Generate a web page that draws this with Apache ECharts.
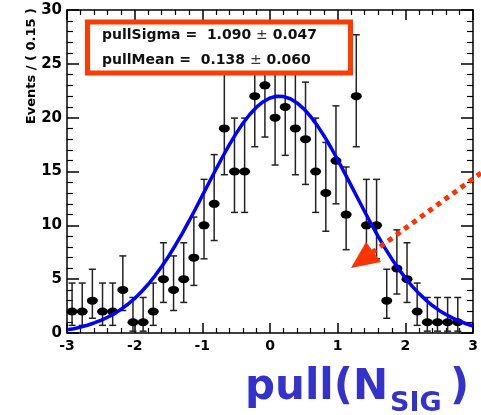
<!DOCTYPE html>
<html>
<head>
<meta charset="utf-8">
<script src="https://cdn.jsdelivr.net/npm/echarts@6/dist/echarts.min.js"></script>
<style>
  html, body { margin: 0; padding: 0; background: #fff; }
  #chart { width: 481px; height: 415px; }
</style>
</head>
<body>
<div id="chart"></div>
<script>
// bin centres of the pull histogram (bin width 0.15)
let binCenters = [-2.925, -2.775, -2.625, -2.475, -2.325, -2.175, -2.025, -1.875, -1.725, -1.575,
                  -1.425, -1.275, -1.125, -0.975, -0.825, -0.675, -0.525, -0.375, -0.225, -0.075,
                   0.075,  0.225,  0.375,  0.525,  0.675,  0.825,  0.975,  1.125,  1.275,  1.425,
                   1.575,  1.725,  1.875,  2.025,  2.175,  2.325,  2.475,  2.625,  2.775,  2.925];
let counts  = [2, 2, 3, 2, 2, 4, 1, 1, 2, 5, 4, 5, 7, 10, 12, 19, 15, 15, 22, 23,
               20, 21, 19, 18, 15, 13, 16, 11, 22, 10, 10, 3, 6, 5, 2, 1, 1, 1, 1, null];
// ends of the error bars
let errLow  = [0.71, 0.71, 1.37, 0.71, 0.71, 2.09, 0.17, 0.17, 0.71, 2.84, 2.09, 2.84, 4.42, 6.89, 8.59,
               14.7, 11.2, 11.2, 17.3, 18.2, 15.6, 16.5, 14.7, 13.8, 11.2, 9.45, 12.0, 7.74, 17.3, 6.89,
               6.89, 1.37, 3.62, 2.84, 0.71, 0.17, 0.17, 0.17, 0.17, null];
let errHigh = [4.64, 4.64, 5.92, 4.64, 4.64, 7.16, 3.30, 3.30, 4.64, 8.38, 7.16, 8.38, 10.77, 14.27, 16.57,
               24.4, 19.96, 19.96, 27.7, 28.8, 25.5, 26.6, 24.4, 23.3, 19.96, 17.7, 21.1, 15.42, 27.7, 14.27,
               14.27, 5.92, 9.58, 8.38, 4.64, 3.30, 3.30, 3.30, 3.30, null];

// fitted gaussian curve, every 0.1
let fitX = [-3.0, -2.9, -2.8, -2.7, -2.6, -2.5, -2.4, -2.3, -2.2, -2.1,
            -2.0, -1.9, -1.8, -1.7, -1.6, -1.5, -1.4, -1.3, -1.2, -1.1,
            -1.0, -0.9, -0.8, -0.7, -0.6, -0.5, -0.4, -0.3, -0.2, -0.1,
             0.0,  0.1,  0.2,  0.3,  0.4,  0.5,  0.6,  0.7,  0.8,  0.9,
             1.0,  1.1,  1.2,  1.3,  1.4,  1.5,  1.6,  1.7,  1.8,  1.9,
             2.0,  2.1,  2.2,  2.3,  2.4,  2.5,  2.6,  2.7,  2.8,  2.9, 3.0];
let fitY = [0.3, 0.4, 0.55, 0.72, 0.93, 1.17, 1.46, 1.8, 2.21, 2.67,
            3.21, 3.83, 4.53, 5.31, 6.17, 7.11, 8.13, 9.21, 10.36, 11.54,
            12.76, 13.98, 15.19, 16.37, 17.49, 18.54, 19.48, 20.29, 20.97, 21.48,
            21.83, 21.99, 21.96, 21.76, 21.37, 20.82, 20.11, 19.26, 18.3, 17.23,
            16.09, 14.9, 13.69, 12.47, 11.26, 10.08, 8.95, 7.88, 6.88, 5.96,
            5.12, 4.35, 3.68, 3.08, 2.55, 2.1, 1.72, 1.39, 1.1, 0.86, 0.65];

let xTicks = [-3, 3, 1];   // min, max, step
let yTicks = [0, 30, 5];

let fitSigma = ['1.090', '0.047'];
let fitMean  = ['0.138', '0.060'];

const FONT = 'DejaVu Sans';

let points = [];
let bars = [];
binCenters.forEach((x, i) => {
    if (counts[i] == null) return;
    points.push([x, counts[i]]);
    bars.push([x, errLow[i], errHigh[i]]);
});

// ROOT style frame: ticks on all four sides, pointing inwards
function axisX(pos, labels) {
    return {
        type: 'value', position: pos, min: xTicks[0], max: xTicks[1], interval: xTicks[2],
        axisLine: { show: true, onZero: false, lineStyle: { color: '#000', width: 1.5 } },
        axisTick: { show: true, inside: true, length: 10, lineStyle: { color: '#000', width: 1.5 } },
        minorTick: { show: true, splitNumber: 5, length: 5, lineStyle: { color: '#000', width: 1.2 } },
        axisLabel: { show: labels, color: '#000', fontFamily: FONT, fontWeight: 'bold', fontSize: 14, margin: 6 },
        splitLine: { show: false }
    };
}
function axisY(pos, labels) {
    return {
        type: 'value', position: pos, min: yTicks[0], max: yTicks[1], interval: yTicks[2],
        axisLine: { show: true, onZero: false, lineStyle: { color: '#000', width: 1.5 } },
        axisTick: { show: true, inside: true, length: 12, lineStyle: { color: '#000', width: 1.5 } },
        minorTick: { show: true, splitNumber: 5, length: 6, lineStyle: { color: '#000', width: 1.2 } },
        axisLabel: { show: labels, color: '#000', fontFamily: FONT, fontWeight: 'bold', fontSize: 15, margin: 5 },
        splitLine: { show: false }
    };
}

let option = {
    animation: false,
    grid: { left: 67, right: 8, top: 10, bottom: 82 },
    xAxis: [axisX('bottom', true), axisX('top', false)],
    yAxis: [axisY('left', true), axisY('right', false)],
    series: [
        {
            type: 'custom',
            data: bars,
            renderItem: (params, api) => {
                const x = api.value(0);
                const p1 = api.coord([x, api.value(1)]);
                const p2 = api.coord([x, api.value(2)]);
                const cw = 3.5;
                const st = { stroke: '#222', lineWidth: 1.5 };
                return {
                    type: 'group',
                    children: [
                        { type: 'line', shape: { x1: p1[0], y1: p1[1], x2: p2[0], y2: p2[1] }, style: st },
                        { type: 'line', shape: { x1: p1[0] - cw, y1: p1[1], x2: p1[0] + cw, y2: p1[1] }, style: st },
                        { type: 'line', shape: { x1: p2[0] - cw, y1: p2[1], x2: p2[0] + cw, y2: p2[1] }, style: st }
                    ]
                };
            }
        },
        {
            type: 'scatter',
            data: points,
            symbol: 'circle',
            symbolSize: [11, 8],
            itemStyle: { color: '#000', opacity: 1 }
        },
        {
            type: 'line',
            data: fitX.map((x, i) => [x, fitY[i]]),
            showSymbol: false,
            lineStyle: { color: '#0000ff', width: 3.5 },
            z: 3
        }
    ],
    graphic: [
        {
            type: 'text', x: 32, y: 8, rotation: Math.PI / 2, z: 50,
            style: { text: 'Events / ( 0.15 )', fill: '#000', font: 'bold 13px "DejaVu Sans"',
                     align: 'right', verticalAlign: 'middle' }
        },
        {
            type: 'rect', z: 100,
            shape: { x: 87.5, y: 22, width: 263, height: 51 },
            style: { fill: '#fff', stroke: '#ff3b00', lineWidth: 5 }
        },
        {
            type: 'text', x: 102, y: 35, z: 101,
            style: {
                text: '{b|pullSigma =  ' + fitSigma[0] + ' }{n|±}{b| ' + fitSigma[1] + '}',
                verticalAlign: 'middle',
                rich: {
                    b: { font: 'bold 14px "DejaVu Sans"', fill: '#111' },
                    n: { font: '14px "DejaVu Sans"', fill: '#333' }
                }
            }
        },
        {
            type: 'text', x: 102, y: 60, z: 101,
            style: {
                text: '{b|pullMean =  ' + fitMean[0] + ' }{n|±}{b| ' + fitMean[1] + '}',
                verticalAlign: 'middle',
                rich: {
                    b: { font: 'bold 14px "DejaVu Sans"', fill: '#111' },
                    n: { font: '14px "DejaVu Sans"', fill: '#333' }
                }
            }
        },
        {
            type: 'line', z: 100,
            shape: { x1: 481, y1: 173, x2: 373, y2: 252 },
            style: { stroke: '#ff3300', lineWidth: 5, lineDash: [5, 5] }
        },
        {
            type: 'polygon', z: 100,
            shape: { points: [[351, 268], [366, 242], [381, 262]] },
            style: { fill: '#ff3300' }
        },
        {
            type: 'text', x: 245, y: 388, z: 100,
            style: { text: 'pull(N', fill: '#3333cc', font: 'bold 42px "DejaVu Sans"', verticalAlign: 'middle' }
        },
        {
            type: 'text', x: 390, y: 404, z: 100,
            style: { text: 'SIG', fill: '#3333cc', font: 'bold 27px "DejaVu Sans"', verticalAlign: 'middle' }
        },
        {
            type: 'text', x: 450, y: 388, z: 100,
            style: { text: ')', fill: '#3333cc', font: 'bold 42px "DejaVu Sans"', verticalAlign: 'middle' }
        }
    ]
};

let chart = echarts.init(document.getElementById('chart'));
chart.setOption(option);
</script>
</body>
</html>
